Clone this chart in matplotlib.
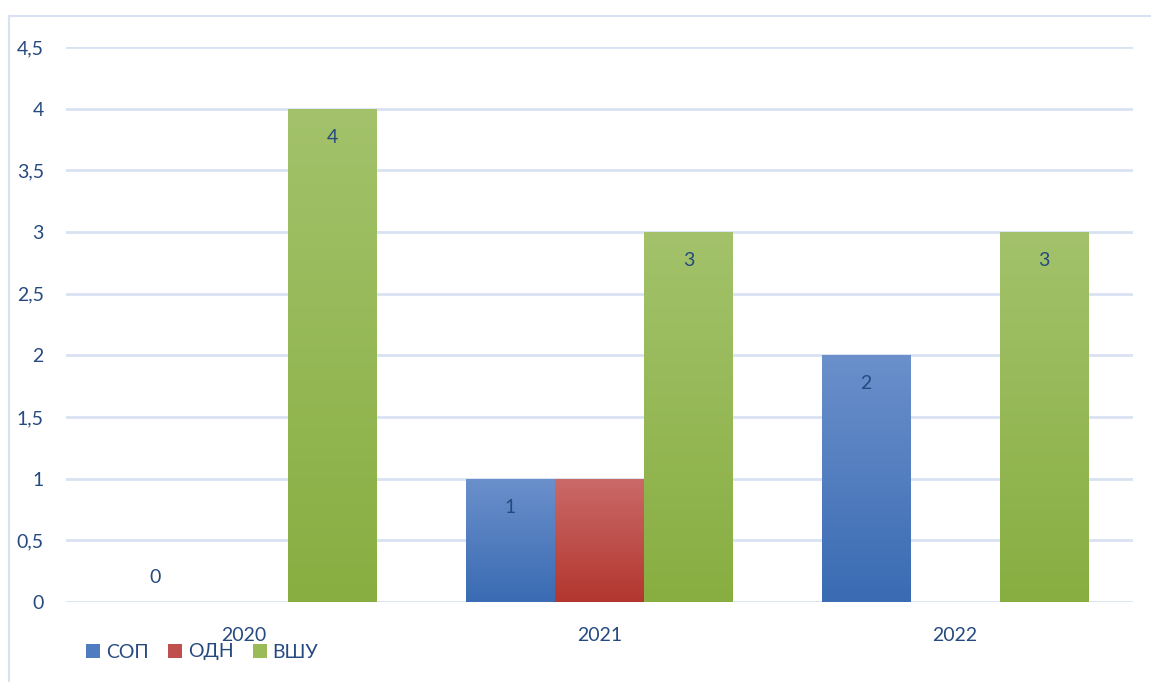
import matplotlib
matplotlib.use("Agg")
import matplotlib.pyplot as plt
import numpy as np
from matplotlib.colors import LinearSegmentedColormap
from matplotlib.patches import Patch
from matplotlib.lines import Line2D

categories = ["2020", "2021", "2022"]
series_names = ["СОП", "ОДН", "ВШУ"]
sop = [0, 1, 2]
odn = [None, 1, None]
vshu = [4, 3, 3]
show_labels = [True, False, True]
yticks = [0, 0.5, 1, 1.5, 2, 2.5, 3, 3.5, 4, 4.5]
ytick_labels = ["0", "0,5", "1", "1,5", "2", "2,5", "3", "3,5", "4", "4,5"]

grads = [("#6B90CB", "#3A6BB3"), ("#CA6A68", "#B3362F"), ("#A3C26B", "#88AE41")]
mids = ["#4F7CC0", "#C0504D", "#9BBB59"]
txt = "#254A80"
grid_c = "#D9E2F3"
fs = 14

plt.rcParams['font.family'] = ['Lato', 'DejaVu Sans']

W, H = 1151, 682
fig = plt.figure(figsize=(W / 100, H / 100), dpi=100)
ax = fig.add_axes([66 / W, 1 - 602 / H, (1133 - 66) / W, (602 - 47) / H])

# chart border
fig.add_artist(Line2D([9 / W, 1.0], [1 - 16 / H, 1 - 16 / H], transform=fig.transFigure,
                      color=grid_c, lw=1.5, zorder=-5))
fig.add_artist(Line2D([9 / W, 9 / W], [1 - 16 / H, 0], transform=fig.transFigure,
                      color=grid_c, lw=1.5, zorder=-5))

x = np.arange(len(categories))
bw = 0.25
series = [sop, odn, vshu]
for i, (vals, (ctop, cbot)) in enumerate(zip(series, grads)):
    xs = [xi + (i - 1) * bw for xi, v in zip(x, vals) if v is not None]
    vs = [v for v in vals if v is not None]
    bars = ax.bar(xs, vs, width=bw, color=mids[i], zorder=3, linewidth=0)
    cmap = LinearSegmentedColormap.from_list("g%d" % i, [cbot, ctop])
    for b, v in zip(bars, vs):
        x0, y0 = b.get_x(), b.get_y()
        w, h = b.get_width(), b.get_height()
        if v > 0:
            im = ax.imshow(np.linspace(0, 1, 256).reshape(-1, 1), cmap=cmap, origin="lower",
                           extent=[x0, x0 + w, y0, y0 + h], aspect="auto", zorder=4)
            im.set_clip_path(b)
        if show_labels[i]:
            ly = v - 0.23 if v > 0 else 0.2
            ax.text(x0 + w / 2, ly, str(v), ha="center", va="center",
                    color=txt, fontsize=fs, zorder=5)

ax.set_xlim(-0.5, 2.5)
ax.set_ylim(0, 4.5)
ax.set_yticks(yticks)
ax.set_yticklabels(ytick_labels)
ax.set_xticks(x)
ax.set_xticklabels(categories)
ax.tick_params(axis="y", length=0, pad=16, labelsize=fs, labelcolor=txt)
ax.tick_params(axis="x", length=0, pad=18, labelsize=fs, labelcolor=txt)
for s in ax.spines.values():
    s.set_visible(False)
ax.yaxis.grid(True, color=grid_c, lw=2, zorder=0)
ax.set_axisbelow(True)

handles = [Patch(facecolor=m, edgecolor="none") for m in mids]
fig.legend(handles, series_names, loc="center left", bbox_to_anchor=(86 / W, 1 - 652 / H),
           ncol=3, frameon=False, fontsize=fs, labelcolor=txt, handlelength=0.72, handleheight=0.72,
           handletextpad=0.3, columnspacing=1.0, borderaxespad=0, borderpad=0)

fig.savefig("out.png", dpi=100)
